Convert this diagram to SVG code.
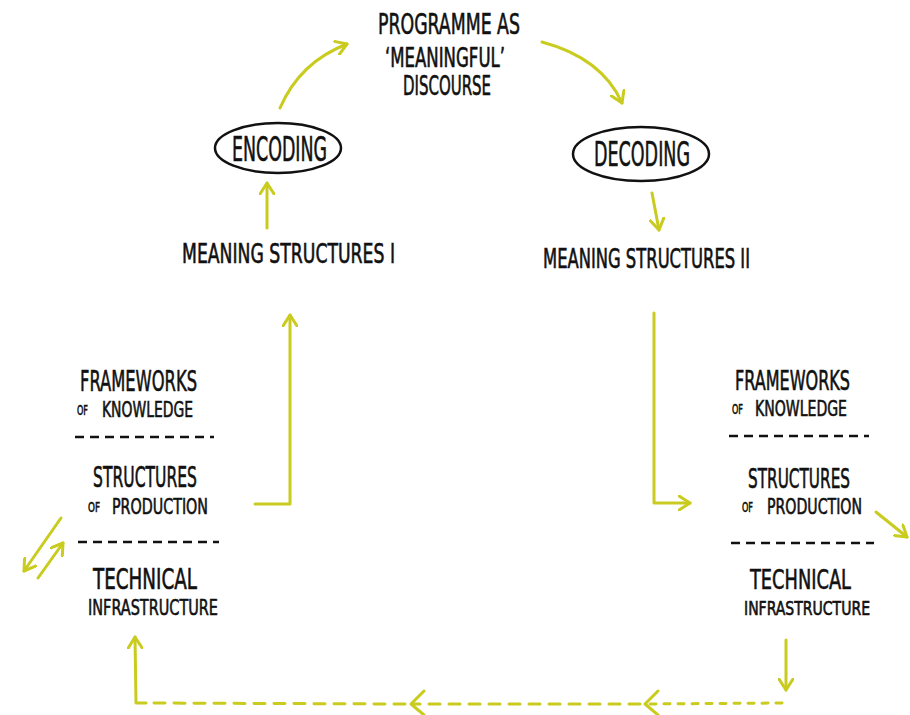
<svg xmlns="http://www.w3.org/2000/svg" width="910" height="715" viewBox="0 0 910 715">
  <style>
    .t { font-family: "Liberation Sans Narrow", "DejaVu Sans Condensed", "Liberation Sans", sans-serif; fill: #111; font-weight: normal; stroke: #111; stroke-width: 0.6; }
    .xl { font-size: 33px; }
    .big { font-size: 29px; }
    .mid { font-size: 26px; }
    .sm { font-size: 22px; }
    .rbig { font-size: 27px; }
    .rsm { font-size: 21px; }
    .rxs { font-size: 19px; }
    .of { font-size: 14px; }
    .conn { fill: none; stroke: #c9cc1f; stroke-width: 3; stroke-linecap: round; stroke-linejoin: round; }
    .dash { stroke-dasharray: 11 9; }
    .dot { stroke-dasharray: 6 8; }
    .sep { fill: none; stroke: #111; stroke-width: 2.5; stroke-dasharray: 9 6; }
    .oval { fill: #fff; stroke: #111; stroke-width: 2.5; }
  </style>
  <defs>
    <marker id="head" viewBox="0 0 14 16" refX="12" refY="8" markerWidth="14" markerHeight="16" markerUnits="userSpaceOnUse" orient="auto">
      <path d="M1,1 L12,8 L1,15" fill="none" stroke="#c9cc1f" stroke-width="3" stroke-linecap="round" stroke-linejoin="round"/>
    </marker>
  </defs>
  <rect width="910" height="715" fill="#fff"/>

  <g id="connectors">
    <path class="conn" d="M280,108 Q300,62 347,44" marker-end="url(#head)"/>
    <path class="conn" d="M542,42 Q602,58 622,103" marker-end="url(#head)"/>
    <path class="conn" d="M267,228 L267,183" marker-end="url(#head)"/>
    <path class="conn" d="M652,193 L659,230" marker-end="url(#head)"/>
    <path class="conn" d="M255,504 L290,504 L290,315" marker-end="url(#head)"/>
    <path class="conn" d="M654,313 L654,503 L690,503" marker-end="url(#head)"/>
    <path class="conn" d="M876,512 L907,537" marker-end="url(#head)"/>
    <path class="conn" d="M61,518 L24,571" marker-end="url(#head)"/>
    <path class="conn" d="M38,578 L63,543" marker-end="url(#head)"/>
    <path class="conn" d="M786,640 L786,690" marker-end="url(#head)"/>
    <path class="conn dot" d="M782,703 L646,704"/>
    <path class="conn dash" d="M640,704 L412,704"/>
    <path class="conn dash" d="M405,704 L146,703"/>
    <path class="conn" d="M146,703 L136,703 L135,637" marker-end="url(#head)"/>
    <path class="conn" d="M658,691 L645,704 L658,715"/>
    <path class="conn" d="M424,691 L411,704 L424,715"/>
  </g>

  <g id="programme">
    <text class="t big" x="378" y="34" textLength="142" lengthAdjust="spacingAndGlyphs">PROGRAMME AS</text>
    <text class="t mid" x="385" y="67" textLength="120" lengthAdjust="spacingAndGlyphs">‘MEANINGFUL’</text>
    <text class="t mid" x="403" y="95" textLength="88" lengthAdjust="spacingAndGlyphs">DISCOURSE</text>
  </g>

  <g id="encoding">
    <ellipse class="oval" cx="278" cy="148" rx="63" ry="25"/>
    <text class="t xl" x="232" y="161" textLength="95" lengthAdjust="spacingAndGlyphs">ENCODING</text>
  </g>

  <g id="decoding">
    <ellipse class="oval" cx="641" cy="154" rx="68" ry="27"/>
    <text class="t xl" x="594" y="166" textLength="96" lengthAdjust="spacingAndGlyphs">DECODING</text>
  </g>

  <g id="meaning-1">
    <text class="t mid" x="182" y="263" textLength="213" lengthAdjust="spacingAndGlyphs">MEANING  STRUCTURES I</text>
  </g>

  <g id="meaning-2">
    <text class="t mid" x="543" y="268" textLength="207" lengthAdjust="spacingAndGlyphs">MEANING STRUCTURES II</text>
  </g>

  <g id="stack-left">
    <text class="t big" x="80" y="391" textLength="117" lengthAdjust="spacingAndGlyphs">FRAMEWORKS</text>
    <text class="t of" x="77" y="415" textLength="11" lengthAdjust="spacingAndGlyphs">OF</text>
    <text class="t sm" x="102" y="417" textLength="91" lengthAdjust="spacingAndGlyphs">KNOWLEDGE</text>
    <path class="sep" d="M75,437 L214,437"/>
    <text class="t big" x="93" y="487" textLength="104" lengthAdjust="spacingAndGlyphs">STRUCTURES</text>
    <text class="t of" x="88" y="512" textLength="12" lengthAdjust="spacingAndGlyphs">OF</text>
    <text class="t sm" x="112" y="514" textLength="96" lengthAdjust="spacingAndGlyphs">PRODUCTION</text>
    <path class="sep" d="M78,542 L219,542"/>
    <text class="t big" x="93" y="589" textLength="104" lengthAdjust="spacingAndGlyphs">TECHNICAL</text>
    <text class="t sm" x="88" y="615" textLength="130" lengthAdjust="spacingAndGlyphs">INFRASTRUCTURE</text>
  </g>

  <g id="stack-right">
    <text class="t rbig" x="735" y="390" textLength="115" lengthAdjust="spacingAndGlyphs">FRAMEWORKS</text>
    <text class="t of" x="732" y="414" textLength="11" lengthAdjust="spacingAndGlyphs">OF</text>
    <text class="t rsm" x="755" y="416" textLength="92" lengthAdjust="spacingAndGlyphs">KNOWLEDGE</text>
    <path class="sep" d="M729,436 L869,436"/>
    <text class="t rbig" x="748" y="488" textLength="102" lengthAdjust="spacingAndGlyphs">STRUCTURES</text>
    <text class="t of" x="742" y="512" textLength="11" lengthAdjust="spacingAndGlyphs">OF</text>
    <text class="t rsm" x="767" y="514" textLength="95" lengthAdjust="spacingAndGlyphs">PRODUCTION</text>
    <path class="sep" d="M731,543 L874,543"/>
    <text class="t rbig" x="750" y="589" textLength="101" lengthAdjust="spacingAndGlyphs">TECHNICAL</text>
    <text class="t rxs" x="744" y="615" textLength="126" lengthAdjust="spacingAndGlyphs">INFRASTRUCTURE</text>
  </g>
</svg>
